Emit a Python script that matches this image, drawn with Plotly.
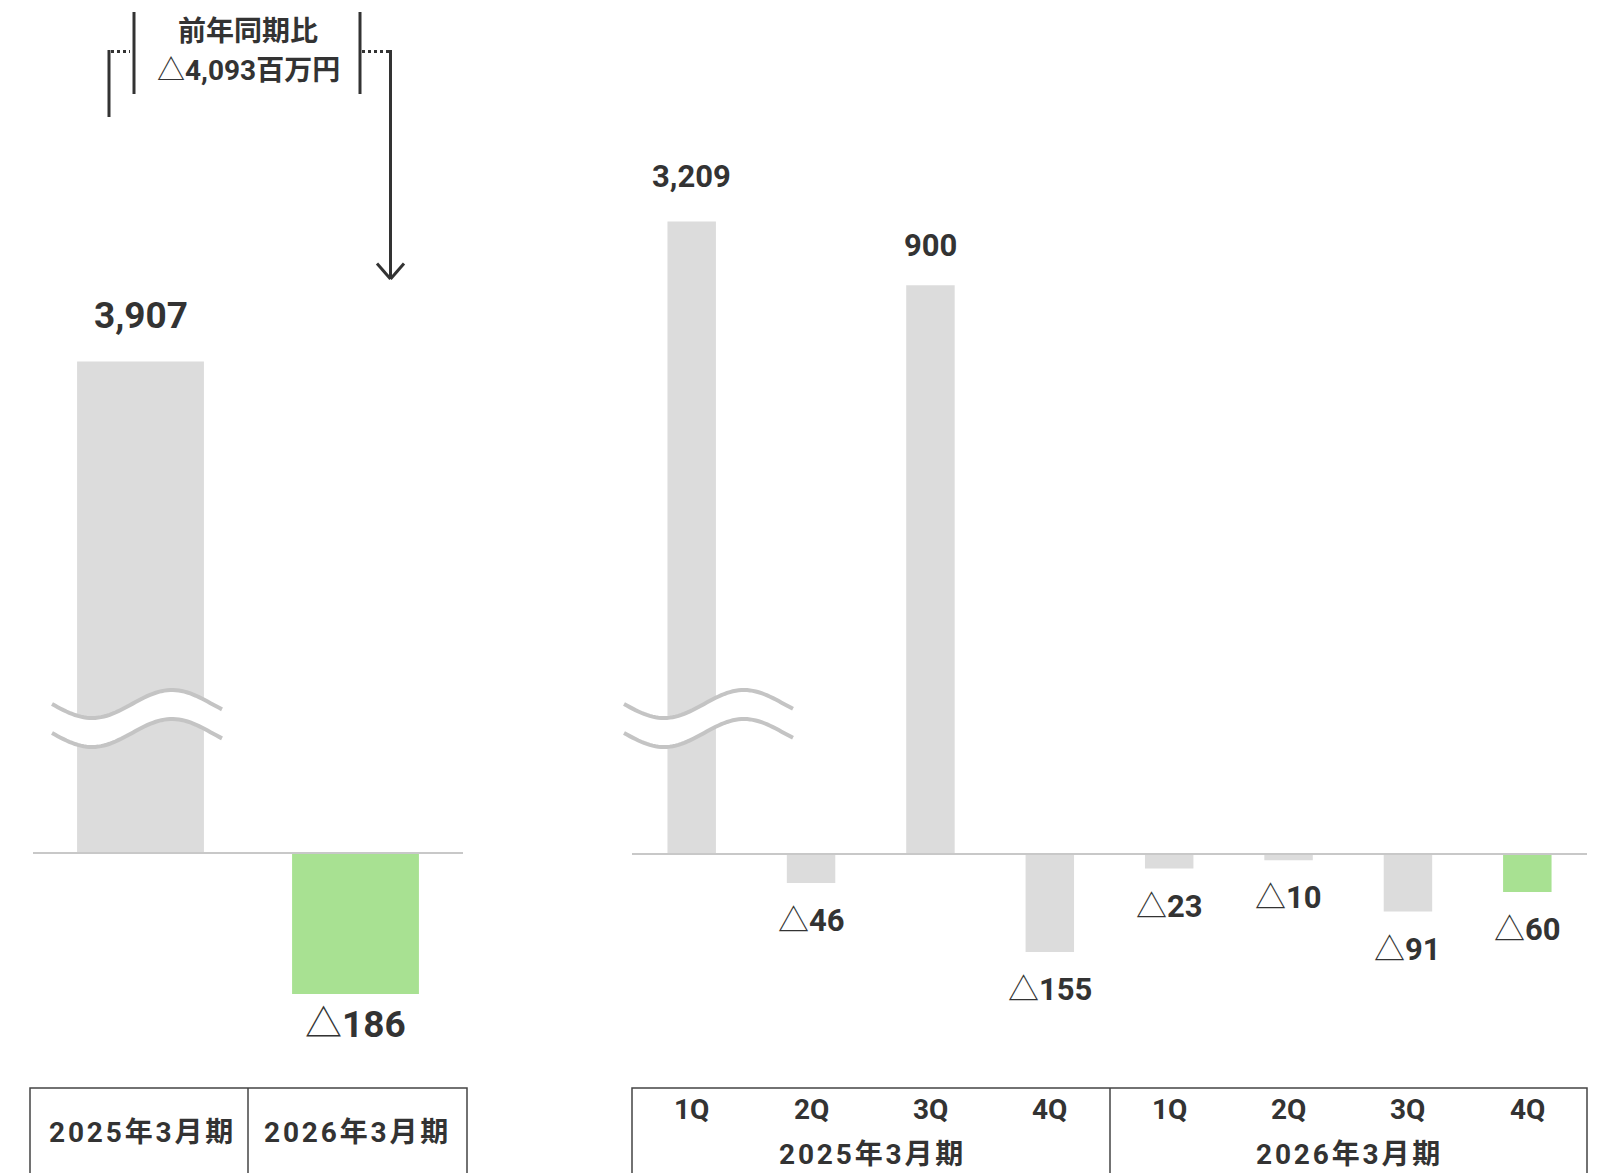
import numpy as np
import plotly.graph_objects as go

# ---------------- data ----------------
annual_periods = ["2025年3月期", "2026年3月期"]
annual_values = [3907, -186]

quarters = ["1Q", "2Q", "3Q", "4Q", "1Q", "2Q", "3Q", "4Q"]
quarter_years = ["2025年3月期", "2026年3月期"]
quarter_values = [3209, -46, 900, -155, -23, -10, -91, -60]

yoy_title = "前年同期比"
yoy_change = -4093
yoy_unit = "百万円"

# ---------------- styling ----------------
W, H = 1615, 1173
FONT = "Roboto, Noto Sans CJK JP"
TXT = "#333333"
GRAY = "#dcdcdc"
GREEN = "#a8e192"
AXIS = "#c8c8c8"
BREAK = "#c4c4c4"

# pixel geometry of the two panels (top = plot top where tall bars are cut)
L_X0, L_X1, L_TOP, L_BASE, L_BOT, L_PXU = 33, 463, 361.5, 853, 1080, 0.758
R_X0, R_X1, R_TOP, R_BASE, R_BOT, R_PXU = 632, 1587, 221.5, 854, 1080, 0.632


def px(x):
    return x / W


def py(y):
    return 1 - y / H


def fmt(v, unit=""):
    return f"<b>{v:,}{unit}</b>" if v >= 0 else f"△<b>{abs(v):,}{unit}</b>"


def spaced(t):
    # small tracking between characters for the table captions
    return "\u200a".join(t)


l_range = [-(L_BOT - L_BASE) / L_PXU, (L_BASE - L_TOP) / L_PXU]
r_range = [-(R_BOT - R_BASE) / R_PXU, (R_BASE - R_TOP) / R_PXU]

fig = go.Figure()

fig.add_trace(go.Bar(
    x=list(range(len(annual_values))), y=annual_values, width=0.59,
    marker=dict(color=[GRAY, GREEN], line=dict(width=0)),
    xaxis="x", yaxis="y", hoverinfo="skip",
))
fig.add_trace(go.Bar(
    x=list(range(len(quarter_values))), y=quarter_values, width=0.406,
    marker=dict(color=[GRAY] * 7 + [GREEN], line=dict(width=0)),
    xaxis="x2", yaxis="y2", hoverinfo="skip",
))

ann = []
# value labels
for i, v in enumerate(annual_values):
    if v >= 0:
        ann.append(dict(x=i, y=min(v, l_range[1]), xref="x", yref="y", text=fmt(v),
                        yshift=45.5, yanchor="middle", showarrow=False,
                        font=dict(size=37, color=TXT, family=FONT)))
    else:
        ann.append(dict(x=i, y=v, xref="x", yref="y", text=fmt(v),
                        yshift=-31, yanchor="middle", showarrow=False,
                        font=dict(size=37, color=TXT, family=FONT)))
for i, v in enumerate(quarter_values):
    if v >= 0:
        shift = 44.5 if v > r_range[1] else 40
        ann.append(dict(x=i, y=min(v, r_range[1]), xref="x2", yref="y2", text=fmt(v),
                        yshift=shift, yanchor="middle", showarrow=False,
                        font=dict(size=31, color=TXT, family=FONT)))
    else:
        ann.append(dict(x=i, y=v, xref="x2", yref="y2", text=fmt(v),
                        yshift=-37.5, yanchor="middle", showarrow=False,
                        font=dict(size=31, color=TXT, family=FONT)))

# category labels in the tables
for i, t in enumerate(annual_periods):
    ann.append(dict(x=i, y=py(1132), xref="x", yref="paper", text=f"<b>{spaced(t)}</b>",
                    xanchor="center", yanchor="middle", showarrow=False,
                    font=dict(size=28, color=TXT, family=FONT)))
for i, t in enumerate(quarters):
    ann.append(dict(x=i, y=py(1109), xref="x2", yref="paper", text=f"<b>{t}</b>",
                    xanchor="center", yanchor="middle", showarrow=False,
                    font=dict(size=28, color=TXT, family=FONT)))
for j, t in enumerate(quarter_years):
    ann.append(dict(x=j * 4 + 1.5, y=py(1154), xref="x2", yref="paper", text=f"<b>{spaced(t)}</b>",
                    xanchor="center", yanchor="middle", showarrow=False,
                    font=dict(size=28, color=TXT, family=FONT)))

# year-on-year callout
ann.append(dict(x=px(248), y=py(32), xref="paper", yref="paper", text=f"<b>{yoy_title}</b>",
                xanchor="center", yanchor="middle", showarrow=False,
                font=dict(size=28, color=TXT, family=FONT)))
ann.append(dict(x=px(248), y=py(71), xref="paper", yref="paper", text=fmt(yoy_change, yoy_unit),
                xanchor="center", yanchor="middle", showarrow=False,
                font=dict(size=28, color=TXT, family=FONT)))

shapes = []


def seg(x0, y0, x1, y1, color=TXT, width=3, dash="solid"):
    shapes.append(dict(type="line", xref="paper", yref="paper",
                       x0=px(x0), y0=py(y0), x1=px(x1), y1=py(y1),
                       line=dict(color=color, width=width, dash=dash), layer="above"))


# baselines
seg(L_X0, L_BASE, L_X1, L_BASE, AXIS, 2)
seg(R_X0, R_BASE, R_X1, R_BASE, AXIS, 2)

# callout brackets and arrow
seg(134, 12, 134, 94)
seg(360, 12, 360, 94)
seg(109, 50, 109, 117)
seg(111, 51.5, 130, 51.5, width=3, dash="dot")
seg(362, 51.5, 389, 51.5, width=3, dash="dot")
seg(390.5, 50, 390.5, 279)
seg(377, 263.5, 390.5, 279)
seg(404, 263.5, 390.5, 279)


# wavy axis-break marks
def wave(x0, x1, mid, amp=14, period=160, n=60):
    xs = np.linspace(x0, x1, n)
    ys = mid + amp * np.sin(2 * np.pi * (xs - x0) / period)
    return xs, ys


def path_of(xs, ys):
    return "M " + " L ".join(f"{px(a):.5f},{py(b):.5f}" for a, b in zip(xs, ys))


for bx0, bx1 in [(52, 222), (624, 793)]:
    gap = 29
    xs, ys = wave(bx0, bx1, 704)
    band = path_of(np.concatenate([xs, xs[::-1]]), np.concatenate([ys, (ys + gap)[::-1]])) + " Z"
    shapes.append(dict(type="path", xref="paper", yref="paper", path=band,
                       fillcolor="white", line=dict(width=0), layer="above"))
    for off in (0, gap):
        shapes.append(dict(type="path", xref="paper", yref="paper", path=path_of(xs, ys + off),
                           line=dict(color=BREAK, width=4), layer="above"))

# tables under the axes
for tx0, tx1, tdiv in [(30, 467, 248), (R_X0, R_X1, 1110)]:
    shapes.append(dict(type="path", xref="paper", yref="paper",
                       path=f"M {px(tx0)},{py(H + 5)} L {px(tx0)},{py(1088)} L {px(tx1)},{py(1088)} L {px(tx1)},{py(H + 5)}",
                       line=dict(color="#444444", width=1.5), layer="above"))
    seg(tdiv, 1088, tdiv, H + 5, "#444444", 1.5)

axis_common = dict(showgrid=False, zeroline=False, showticklabels=False, ticks="", showline=False,
                   fixedrange=True)

fig.update_layout(
    width=W, height=H, autosize=False,
    margin=dict(l=0, r=0, t=0, b=0),
    paper_bgcolor="white", plot_bgcolor="white",
    showlegend=False,
    font=dict(family=FONT, color=TXT),
    xaxis=dict(domain=[px(L_X0), px(L_X1)], range=[-0.5, 1.5], anchor="y", **axis_common),
    yaxis=dict(domain=[py(L_BOT), py(L_TOP)], range=l_range, anchor="x", **axis_common),
    xaxis2=dict(domain=[px(R_X0), px(R_X1)], range=[-0.5, 7.5], anchor="y2", **axis_common),
    yaxis2=dict(domain=[py(R_BOT), py(R_TOP)], range=r_range, anchor="x2", **axis_common),
    annotations=ann,
    shapes=shapes,
)

fig.write_html("out.html", config={"displayModeBar": False})
